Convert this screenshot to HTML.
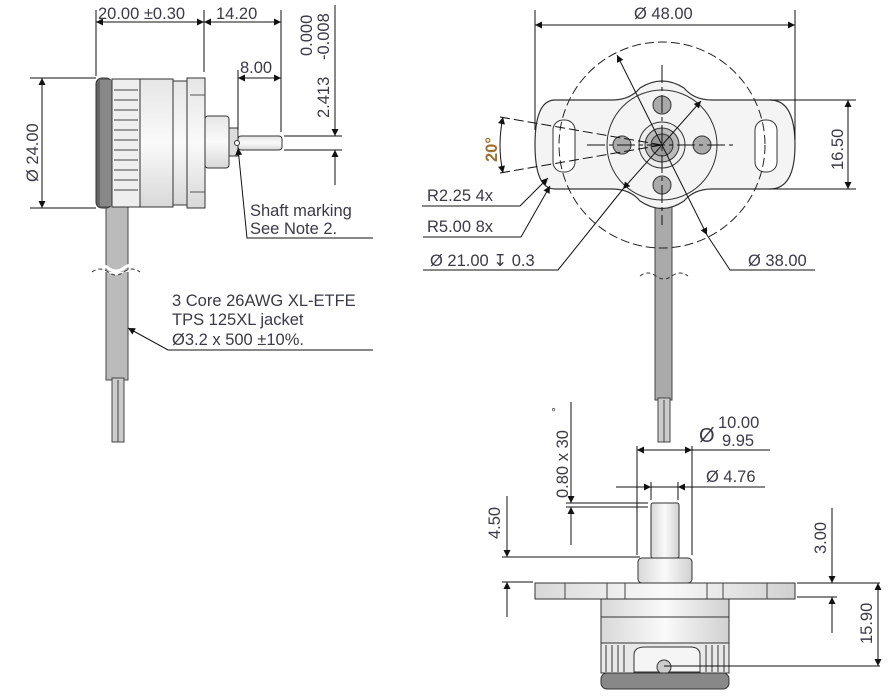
<!DOCTYPE html>
<html><head><meta charset="utf-8"><style>
html,body{margin:0;padding:0;background:#fff;}
svg{display:block;font-family:"Liberation Sans",sans-serif;}
text{font-size:16.5px;fill:#3a3a48;}
.d{stroke:#111;stroke-width:1;fill:none;}
</style></head><body>
<svg width="891" height="698" viewBox="0 0 891 698" xmlns="http://www.w3.org/2000/svg">
<defs>
<marker id="a" viewBox="0 0 10 10" refX="10" refY="5" markerWidth="13" markerHeight="7" orient="auto-start-reverse" markerUnits="userSpaceOnUse"><path d="M0,0 L10,5 L0,10z" fill="#111"/></marker>
<linearGradient id="g" x1="0" y1="0" x2="0" y2="1"><stop offset="0" stop-color="#e6e6e6"/><stop offset=".5" stop-color="#fafafa"/><stop offset="1" stop-color="#d8d8d8"/></linearGradient>
<linearGradient id="gh" x1="0" y1="0" x2="1" y2="0"><stop offset="0" stop-color="#d8d8d8"/><stop offset=".5" stop-color="#fafafa"/><stop offset="1" stop-color="#d0d0d0"/></linearGradient>
</defs>

<!-- LEFT VIEW -->
<rect x="106" y="205" width="22" height="175" fill="#bbb" stroke="#444"/>
<rect x="112" y="378" width="12" height="64" fill="#ccc" stroke="#444"/>
<line x1="118" y1="380" x2="118" y2="442" stroke="#444"/>
<path d="M92,272 q8,-6 16,0 t16,0 t16,0" stroke="#333" fill="#fff" stroke-dasharray="4,3"/>
<path d="M92,268 q8,-6 16,0 t16,0 t16,0" stroke="#fff" stroke-width="3" fill="none"/>
<rect x="96" y="78" width="16" height="130" rx="6" fill="#666" stroke="#333"/>
<rect x="100" y="80" width="12" height="126" fill="#888"/>
<rect x="112" y="79" width="28" height="128" fill="#eee" stroke="#333"/>
<g stroke="#444">
<line x1="114" y1="90" x2="138" y2="90"/><line x1="114" y1="100" x2="138" y2="100"/><line x1="114" y1="110" x2="138" y2="110"/><line x1="114" y1="120" x2="138" y2="120"/><line x1="114" y1="130" x2="138" y2="130"/><line x1="114" y1="140" x2="138" y2="140"/><line x1="114" y1="150" x2="138" y2="150"/><line x1="114" y1="160" x2="138" y2="160"/><line x1="114" y1="170" x2="138" y2="170"/><line x1="114" y1="180" x2="138" y2="180"/><line x1="114" y1="190" x2="138" y2="190"/>
</g>
<rect x="140" y="79" width="33" height="128" fill="url(#g)" stroke="#333"/>
<rect x="173" y="81" width="14" height="124" fill="url(#g)" stroke="#333"/>
<rect x="187" y="78" width="18" height="130" fill="url(#g)" stroke="#333"/>
<line x1="190" y1="95" x2="205" y2="95" stroke="#555"/><line x1="190" y1="192" x2="205" y2="192" stroke="#555"/>
<rect x="205" y="116" width="24" height="52" rx="3" fill="url(#g)" stroke="#333"/>
<rect x="229" y="128" width="9" height="28" fill="#ddd" stroke="#333"/>
<rect x="238" y="136" width="44" height="14" rx="3" fill="url(#g)" stroke="#333"/>
<circle cx="237" cy="143" r="2.5" fill="#fff" stroke="#333"/>

<g class="d">
<line x1="96" y1="10" x2="96" y2="76"/><line x1="204" y1="10" x2="204" y2="72"/><line x1="281" y1="10" x2="281" y2="132"/>
<line x1="96" y1="22" x2="204" y2="22" marker-start="url(#a)" marker-end="url(#a)"/>
<line x1="204" y1="22" x2="281" y2="22" marker-start="url(#a)" marker-end="url(#a)"/>
<line x1="238" y1="70" x2="238" y2="130"/>
<line x1="238" y1="78" x2="281" y2="78" marker-start="url(#a)" marker-end="url(#a)"/>
<line x1="284" y1="136" x2="342" y2="136"/><line x1="284" y1="150" x2="342" y2="150"/>
<line x1="335" y1="5" x2="335" y2="136" marker-end="url(#a)"/>
<line x1="335" y1="168" x2="335" y2="150" marker-end="url(#a)"/>
<line x1="335" y1="150" x2="335" y2="185"/>
<line x1="30" y1="78" x2="96" y2="78"/><line x1="30" y1="208" x2="96" y2="208"/>
<line x1="42" y1="78" x2="42" y2="208" marker-start="url(#a)" marker-end="url(#a)"/>
<polyline points="373,238 247,238 238,148" marker-end="url(#a)"/>
<polyline points="373,350 168,350 128,328" marker-end="url(#a)"/>
</g>
<text x="98" y="19">20.00 ±0.30</text>
<text x="216" y="19">14.20</text>
<text x="240" y="73">8.00</text>
<text transform="translate(312,56) rotate(-90)">0.000</text>
<text transform="translate(329,60) rotate(-90)">-0.008</text>
<text transform="translate(329,118) rotate(-90)">2.413</text>
<text transform="translate(38,182) rotate(-90)">Ø 24.00</text>
<text x="250" y="216">Shaft marking</text>
<text x="250" y="234">See Note 2.</text>
<text x="172" y="306">3 Core 26AWG XL-ETFE</text>
<text x="172" y="325">TPS 125XL jacket</text>
<text x="172" y="345">Ø3.2 x 500 ±10%.</text>

<!-- TOP RIGHT VIEW -->
<rect x="655" y="205" width="17" height="195" fill="#aaa" stroke="#444"/>
<rect x="658" y="398" width="12" height="44" fill="#ccc" stroke="#444"/>
<line x1="664" y1="400" x2="664" y2="442" stroke="#444"/>
<path d="M640,276 q8,-6 16,0 t16,0 t16,0" stroke="#333" fill="none" stroke-dasharray="4,3"/>
<path d="M555,100 L612,100 Q630,100 640,88 Q662,74 684,88 Q694,100 712,100 L770,100 Q795,100 795,145 Q795,189 770,189 L712,189 Q694,189 684,201 Q662,216 640,201 Q630,189 612,189 L555,189 Q535,189 535,145 Q535,100 555,100Z" fill="#f4f4f4" stroke="#333" stroke-width="1.2"/>
<rect x="553" y="120" width="22" height="52" rx="10" fill="#fff" stroke="#333"/>
<rect x="755" y="120" width="22" height="52" rx="10" fill="#fff" stroke="#333"/>
<circle cx="662" cy="145" r="55" fill="none" stroke="#333"/>
<circle cx="662" cy="105" r="9" fill="#aaa" stroke="#333"/>
<circle cx="662" cy="185" r="9" fill="#aaa" stroke="#333"/>
<circle cx="622" cy="145" r="9" fill="#aaa" stroke="#333"/>
<circle cx="702" cy="145" r="9" fill="#aaa" stroke="#333"/>
<circle cx="662" cy="145" r="23" fill="#eee" stroke="#333"/>
<circle cx="662" cy="145" r="17" fill="#bbb" stroke="#333"/>
<circle cx="662" cy="145" r="11" fill="#999" stroke="#333"/>
<circle cx="662" cy="145" r="103" fill="none" stroke="#222" stroke-dasharray="9,4"/>
<g class="d">
<line x1="587" y1="145" x2="737" y2="145" stroke-dasharray="18,4,4,4"/>
<line x1="662" y1="65" x2="662" y2="225" stroke-dasharray="18,4,4,4"/>
<line x1="535" y1="10" x2="535" y2="130"/><line x1="795" y1="10" x2="795" y2="140"/>
<line x1="535" y1="25" x2="795" y2="25" marker-start="url(#a)" marker-end="url(#a)"/>
<line x1="770" y1="100" x2="856" y2="100"/><line x1="770" y1="189" x2="856" y2="189"/>
<line x1="848" y1="100" x2="848" y2="189" marker-start="url(#a)" marker-end="url(#a)"/>
<line x1="617" y1="55" x2="707" y2="235" marker-start="url(#a)" marker-end="url(#a)"/>
<polyline points="707,235 730,270 815,270"/>
<line x1="701" y1="101" x2="623" y2="189" marker-start="url(#a)" marker-end="url(#a)"/>
<polyline points="623,189 558,270 423,270"/>
<polyline points="422,206 520,206 548,178" marker-end="url(#a)"/>
<polyline points="423,237 521,237 550,186" marker-end="url(#a)"/>
<line x1="500" y1="117" x2="662" y2="145" stroke-dasharray="10,4"/>
<line x1="500" y1="173" x2="662" y2="145" stroke-dasharray="10,4"/>
<path d="M503,117 Q497,145 503,173" marker-start="url(#a)" marker-end="url(#a)"/>
</g>
<text x="634" y="19">Ø 48.00</text>
<text transform="translate(843,170) rotate(-90)">16.50</text>
<text transform="translate(497,162) rotate(-90)" style="fill:#a07030;font-weight:bold">20°</text>
<text x="427" y="201">R2.25  4x</text>
<text x="427" y="232">R5.00  8x</text>
<text x="430" y="266">Ø 21.00 ↧ 0.3</text>
<text x="748" y="266">Ø 38.00</text>

<!-- BOTTOM VIEW -->
<rect x="651" y="503" width="28" height="55" rx="2" fill="url(#gh)" stroke="#333"/>
<rect x="638" y="558" width="54" height="25" rx="4" fill="url(#gh)" stroke="#333"/>
<rect x="535" y="583" width="260" height="16" fill="url(#gh)" stroke="#333"/>
<g stroke="#444"><line x1="565" y1="583" x2="565" y2="599"/><line x1="607" y1="583" x2="607" y2="599"/><line x1="625" y1="583" x2="625" y2="599"/><line x1="707" y1="583" x2="707" y2="599"/><line x1="723" y1="583" x2="723" y2="599"/><line x1="767" y1="583" x2="767" y2="599"/></g>
<rect x="601" y="599" width="128" height="18" fill="url(#gh)" stroke="#333"/>
<rect x="601" y="617" width="128" height="26" fill="url(#gh)" stroke="#333"/>
<rect x="601" y="643" width="128" height="30" fill="#e8e8e8" stroke="#333"/>
<g stroke="#333"><line x1="606" y1="645" x2="606" y2="672"/><line x1="612" y1="645" x2="612" y2="672"/><line x1="618" y1="645" x2="618" y2="672"/><line x1="624" y1="645" x2="624" y2="672"/><line x1="706" y1="645" x2="706" y2="672"/><line x1="712" y1="645" x2="712" y2="672"/><line x1="718" y1="645" x2="718" y2="672"/><line x1="724" y1="645" x2="724" y2="672"/></g>
<path d="M634,672 L634,655 Q634,647 645,647 L690,647 Q700,647 700,655 L700,672Z" fill="#f5f5f5" stroke="#333"/>
<circle cx="664" cy="667" r="7" fill="#ccc" stroke="#333"/>
<rect x="601" y="673" width="128" height="16" rx="6" fill="#888" stroke="#333"/>
<g class="d">
<line x1="637" y1="446" x2="637" y2="555"/><line x1="692" y1="446" x2="692" y2="555"/>
<line x1="637" y1="450" x2="770" y2="450"/>
<line x1="656" y1="450" x2="637" y2="450" marker-end="url(#a)"/>
<line x1="673" y1="450" x2="692" y2="450" marker-end="url(#a)"/>
<line x1="651" y1="482" x2="651" y2="500"/><line x1="678" y1="482" x2="678" y2="500"/>
<line x1="616" y1="487" x2="765" y2="487"/>
<line x1="636" y1="487" x2="651" y2="487" marker-end="url(#a)"/>
<line x1="696" y1="487" x2="678" y2="487" marker-end="url(#a)"/>
<line x1="566" y1="503" x2="648" y2="503"/><line x1="566" y1="507" x2="648" y2="507"/>
<line x1="571" y1="402" x2="571" y2="503" marker-end="url(#a)"/>
<line x1="571" y1="545" x2="571" y2="507" marker-end="url(#a)"/>
<line x1="502" y1="557" x2="640" y2="557"/><line x1="502" y1="582" x2="533" y2="582"/>
<line x1="507" y1="496" x2="507" y2="557" marker-end="url(#a)"/>
<line x1="507" y1="617" x2="507" y2="582" marker-end="url(#a)"/>
<line x1="797" y1="583" x2="880" y2="583"/><line x1="797" y1="597" x2="837" y2="597"/>
<line x1="832" y1="508" x2="832" y2="583" marker-end="url(#a)"/>
<line x1="832" y1="633" x2="832" y2="597" marker-end="url(#a)"/>
<line x1="664" y1="666" x2="880" y2="666"/>
<line x1="878" y1="583" x2="878" y2="666" marker-start="url(#a)" marker-end="url(#a)"/>
</g>
<text x="699" y="442" style="font-size:20px">Ø</text>
<text x="718" y="428">10.00</text>
<text x="722" y="446">9.95</text>
<text x="706" y="482">Ø 4.76</text>
<text transform="translate(568,498) rotate(-90)">0.80 x 30</text>
<text transform="translate(560,412) rotate(-90)" style="font-size:12px">°</text>
<text transform="translate(500,539) rotate(-90)">4.50</text>
<text transform="translate(826,554) rotate(-90)">3.00</text>
<text transform="translate(872,644) rotate(-90)">15.90</text>
</svg>
</body></html>
